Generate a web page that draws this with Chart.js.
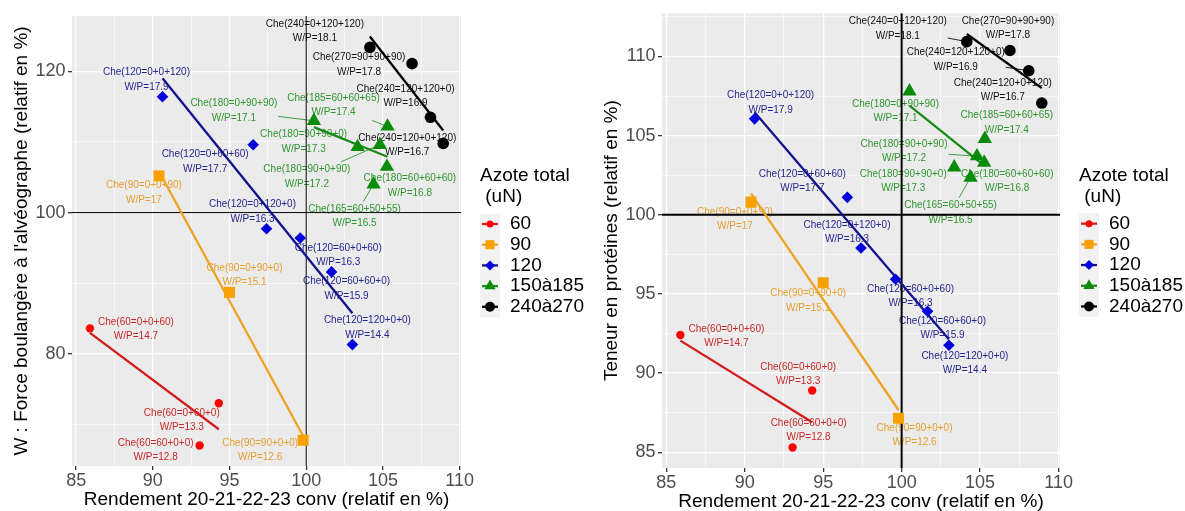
<!DOCTYPE html>
<html>
<head>
<meta charset="utf-8">
<script src="https://cdn.jsdelivr.net/npm/chart.js@4.4.0/dist/chart.umd.min.js"></script>
<style>
  body { margin: 0; background: #fff; }
  .box { position: absolute; top: 0; }
</style>
</head>
<body>
<div class="box" style="left:0"><canvas id="chartW" width="590" height="511"></canvas></div>
<div class="box" style="left:590px"><canvas id="chartP" width="595" height="511"></canvas></div>
<script>
// nitrogen classes (legend)
const groupNames = ["60", "90", "120", "150à185", "240à270"];

// one entry per treatment
const treatments = [
  "60=0+0+60", "60=0+60+0", "60=60+0+0",
  "90=0+0+90", "90=0+90+0", "90=90+0+0",
  "120=0+0+120", "120=0+60+60", "120=0+120+0", "120=60+0+60", "120=60+60+0", "120=120+0+0",
  "180=0+90+90", "185=60+60+65", "180=90+90+0", "180=90+0+90", "180=60+60+60", "165=60+50+55",
  "240=0+120+120", "270=90+90+90", "240=120+120+0", "240=120+0+120"
];
const groupIdx = [0,0,0, 1,1,1, 2,2,2,2,2,2, 3,3,3,3,3,3, 4,4,4,4];
const wpRatio = [14.7, 13.3, 12.8, 17, 15.1, 12.6, 17.9, 17.7, 16.3, 16.3, 15.9, 14.4,
                 17.1, 17.4, 17.3, 17.2, 16.8, 16.5, 18.1, 17.8, 16.9, 16.7];
const rendement = [85.9, 94.3, 93.05, 90.4, 95.0, 99.8, 90.63, 96.54, 97.41, 99.61, 101.65, 103.01,
                   100.5, 105.3, 103.35, 104.8, 105.26, 104.39, 104.15, 106.9, 108.1, 108.93];
const forceW = [83.6, 73.0, 67.0, 105.2, 88.7, 67.75, 116.4, 109.6, 97.7, 96.4, 91.6, 81.3,
                113.0, 112.2, 109.3, 109.6, 106.5, 104.0, 123.4, 121.1, 113.5, 109.8];
const proteines = [92.4, 88.9, 85.3, 100.8, 95.7, 87.15, 106.06, 101.1, 97.9, 95.93, 93.9, 91.76,
                   107.8, 104.8, 103.0, 103.7, 103.3, 102.35, 110.94, 110.38, 109.1, 107.06];

// axis ticks
const xMajor = [85, 90, 95, 100, 105, 110];
const xMinor = [87.5, 92.5, 97.5, 102.5, 107.5];
const wMajor = [80, 100, 120];
const wMinor = [70, 90, 110];
const pMajor = [85, 90, 95, 100, 105, 110];
const pMinor = [87.5, 92.5, 97.5, 102.5, 107.5, 112.5];

// styles
const pointColors = ["#FF0000", "#F7A100", "#0000DD", "#0A8C0A", "#000000"];
const lineColors = ["#D41C1C", "#EDA323", "#13138E", "#1A8A1A", "#000000"];
const textColors = ["#C62828", "#E5A030", "#25258F", "#2E962E", "#111111"];
const pointStyles = ["circle", "rect", "rectRot", "triangle", "circle"];
const pointSizes = [4.2, 7.8, 5.8, 8.3, 5.8];
const keySizes = [3.5, 6.4, 5, 6.5, 5];
const FONT = '"Liberation Sans", Arial, sans-serif';

// label placement (px from the point), third value = draw a leader segment
const nudgeW = [[46,1,0],[-37,17,0],[-44,5,0],[-15,17,0],[15,-17,0],[-43,10,0],
                [-16,-17,0],[-48,17,0],[-14,-17,0],[38,17,0],[15,17,0],[15,-17,0],
                [-80,-10,1],[-54,-21,1],[-54,-5,0],[-73,32,1],[23,19,0],[-19,32,1],
                [-55,-16,0],[-53,1,0],[-25,-21,0],[-36,2,0]];
const nudgeP = [[46,1,0],[-14,-16,0],[16,-17,0],[-16,17,0],[-15,18,0],[16,17,0],
                [16,-16,0],[-45,-16,0],[-14,-16,0],[15,17,0],[15,17,0],[16,18,0],
                [-14,20,0],[22,-16,0],[-51,14,0],[-73,-5,1],[23,19,0],[-20,35,1],
                [-69,-13,1],[-2,-22,0],[-73,-11,1],[-39,-13,0]];

// least squares line over the group's x range
function fitLine(xs, ys) {
  const n = xs.length;
  const mx = xs.reduce((a, b) => a + b, 0) / n;
  const my = ys.reduce((a, b) => a + b, 0) / n;
  let sxy = 0, sxx = 0;
  xs.forEach((x, i) => { sxy += (x - mx) * (ys[i] - my); sxx += (x - mx) * (x - mx); });
  const b = sxy / sxx, a = my - b * mx;
  const x0 = Math.min(...xs), x1 = Math.max(...xs);
  return [{x: x0, y: a + b * x0}, {x: x1, y: a + b * x1}];
}

function buildDatasets(yv) {
  const sets = [];
  groupNames.forEach((g, k) => {
    const idx = groupIdx.map((v, i) => v === k ? i : -1).filter(i => i >= 0);
    sets.push({
      label: g,
      data: idx.map(i => ({x: rendement[i], y: yv[i]})),
      pointStyle: pointStyles[k],
      pointRadius: pointSizes[k],
      backgroundColor: pointColors[k],
      borderWidth: 0,
      order: 1
    });
    sets.push({
      label: g + " lm",
      data: fitLine(idx.map(i => rendement[i]), idx.map(i => yv[i])),
      showLine: true,
      borderColor: lineColors[k],
      borderWidth: 2.3,
      pointRadius: 0,
      order: 2
    });
  });
  return sets;
}

function shape(ctx, style, r, x, y) {
  ctx.beginPath();
  if (style === "circle") {
    ctx.arc(x, y, r, 0, Math.PI * 2);
  } else if (style === "rect") {
    const s = r * Math.SQRT1_2;
    ctx.rect(x - s, y - s, 2 * s, 2 * s);
  } else if (style === "rectRot") {
    ctx.moveTo(x - r, y); ctx.lineTo(x, y - r); ctx.lineTo(x + r, y); ctx.lineTo(x, y + r);
  } else {
    ctx.moveTo(x, y - r);
    ctx.lineTo(x + r * 0.866, y + r / 2);
    ctx.lineTo(x - r * 0.866, y + r / 2);
  }
  ctx.closePath();
  ctx.fill();
}

const panelBg = {
  id: "panelBg",
  beforeDraw(chart) {
    const {ctx, chartArea: a} = chart;
    ctx.save();
    ctx.fillStyle = "#EBEBEB";
    ctx.fillRect(a.left, a.top, a.right - a.left, a.bottom - a.top);
    ctx.restore();
  }
};

// treatment labels, leader segments and the 100 % reference lines
const tags = {
  id: "tags",
  beforeDatasetsDraw(chart, args, opts) {
    const {ctx, chartArea: a, scales: {x, y}} = chart;
    const yv = opts.values, nud = opts.nudges;
    ctx.save();
    ctx.beginPath();
    ctx.rect(a.left, a.top, a.right - a.left, a.bottom - a.top);
    ctx.clip();
    ctx.font = "10px " + FONT;
    ctx.textAlign = "center";
    ctx.textBaseline = "middle";
    treatments.forEach((t, i) => {
      const px = x.getPixelForValue(rendement[i]);
      const py = y.getPixelForValue(yv[i]);
      const cx = px + nud[i][0], cy = py + nud[i][1];
      const l1 = "Che(" + t + ")", l2 = "W/P=" + wpRatio[i];
      const col = textColors[groupIdx[i]];
      ctx.fillStyle = col;
      ctx.fillText(l1, cx, cy - 7.2);
      ctx.fillText(l2, cx, cy + 7.2);
      if (nud[i][2]) {
        const hw = ctx.measureText(l1).width / 2 + 1, hh = 15;
        const dx = px - cx, dy = py - cy;
        const s = Math.min(dx ? hw / Math.abs(dx) : 9, dy ? hh / Math.abs(dy) : 9);
        const len = Math.hypot(dx, dy);
        ctx.strokeStyle = col;
        ctx.lineWidth = 0.9;
        ctx.beginPath();
        ctx.moveTo(cx + dx * s, cy + dy * s);
        ctx.lineTo(px - dx / len * 4, py - dy / len * 4);
        ctx.stroke();
      }
    });
    ctx.strokeStyle = "#000";
    ctx.lineWidth = opts.refWidth;
    const vx = x.getPixelForValue(100), hy = y.getPixelForValue(100);
    ctx.beginPath();
    ctx.moveTo(vx, a.top); ctx.lineTo(vx, a.bottom);
    ctx.moveTo(a.left, hy); ctx.lineTo(a.right, hy);
    ctx.stroke();
    ctx.restore();
  }
};

const azoteLegend = {
  id: "azoteLegend",
  afterDraw(chart) {
    const {ctx, chartArea: a} = chart;
    const lx = a.right + 19, mid = (a.top + a.bottom) / 2;
    const y0 = mid - 17, step = 20.7;
    ctx.save();
    ctx.font = "19px " + FONT;
    ctx.textAlign = "left";
    ctx.textBaseline = "middle";
    ctx.fillStyle = "#000";
    ctx.fillText("Azote total", lx, mid - 65);
    ctx.fillText(" (uN)", lx, mid - 44);
    ctx.fillStyle = "#F2F2F2";
    ctx.fillRect(lx, y0 - step / 2, 20, step * groupNames.length);
    groupNames.forEach((g, k) => {
      const yy = y0 + k * step;
      ctx.strokeStyle = lineColors[k];
      ctx.lineWidth = 2.3;
      ctx.beginPath();
      ctx.moveTo(lx + 2, yy); ctx.lineTo(lx + 18, yy);
      ctx.stroke();
      ctx.fillStyle = pointColors[k];
      shape(ctx, pointStyles[k], keySizes[k], lx + 10, yy);
      ctx.fillStyle = "#000";
      ctx.fillText(g, lx + 30, yy);
    });
    ctx.restore();
  }
};

function makeChart(id, yv, cfg) {
  const canvas = document.getElementById(id);
  const yMajorSet = cfg.yMajor;
  return new Chart(canvas, {
    type: "scatter",
    data: {datasets: buildDatasets(yv)},
    plugins: [panelBg, tags, azoteLegend],
    options: {
      responsive: false,
      animation: false,
      events: [],
      layout: {padding: {top: cfg.area.top, right: canvas.width - cfg.area.right, left: 0, bottom: 0}},
      plugins: {
        legend: {display: false},
        tooltip: {enabled: false},
        tags: {values: yv, nudges: cfg.nudges, refWidth: cfg.refWidth}
      },
      scales: {
        x: {
          type: "linear",
          min: 84.73, max: 110.09,
          afterBuildTicks: s => { s.ticks = xMajor.concat(xMinor).sort((p, q) => p - q).map(v => ({value: v})); },
          afterFit: s => { s.height = canvas.height - cfg.area.bottom; },
          border: {display: false},
          grid: {
            color: "#FFFFFF",
            lineWidth: c => xMajor.includes(c.tick.value) ? 1.3 : 0.6,
            tickColor: c => xMajor.includes(c.tick.value) ? "#333333" : "rgba(0,0,0,0)",
            tickLength: 4
          },
          ticks: {
            autoSkip: false, maxRotation: 0, padding: 0,
            color: "#4D4D4D", font: {family: FONT, size: 18},
            callback: v => xMajor.includes(v) ? String(v) : ""
          },
          title: {
            display: true, text: "Rendement 20-21-22-23 conv (relatif en %)",
            color: "#000", font: {family: FONT, size: 19, lineHeight: 1},
            padding: {top: 0, bottom: cfg.xTitlePad}
          }
        },
        y: {
          type: "linear",
          min: cfg.yMin, max: cfg.yMax,
          afterBuildTicks: s => { s.ticks = cfg.yMajor.concat(cfg.yMinor).sort((p, q) => p - q).map(v => ({value: v})); },
          afterFit: s => { s.width = cfg.area.left; },
          border: {display: false},
          grid: {
            color: "#FFFFFF",
            lineWidth: c => yMajorSet.includes(c.tick.value) ? 1.3 : 0.6,
            tickColor: c => yMajorSet.includes(c.tick.value) ? "#333333" : "rgba(0,0,0,0)",
            tickLength: 4
          },
          ticks: {
            autoSkip: false, padding: 2.5,
            color: "#4D4D4D", font: {family: FONT, size: 18},
            callback: v => yMajorSet.includes(v) ? String(v) : ""
          },
          title: {
            display: true, text: cfg.yTitle,
            color: "#000", font: {family: FONT, size: 19, lineHeight: 1},
            padding: {top: 12.5, bottom: 0}
          }
        }
      }
    }
  });
}

makeChart("chartW", forceW, {
  yMin: 64.1, yMax: 127.85,
  yMajor: wMajor, yMinor: wMinor,
  yTitle: "W : Force boulangère à l'alvéographe (relatif en %)",
  area: {top: 16, bottom: 466, left: 72, right: 461},
  nudges: nudgeW, refWidth: 1, xTitlePad: 1.5
});

makeChart("chartP", proteines, {
  yMin: 84.0, yMax: 112.73,
  yMajor: pMajor, yMinor: pMinor,
  yTitle: "Teneur en protéines (relatif en %)",
  area: {top: 12, bottom: 468, left: 72, right: 470},
  nudges: nudgeP, refWidth: 2, xTitlePad: 0
});
</script>
</body>
</html>
